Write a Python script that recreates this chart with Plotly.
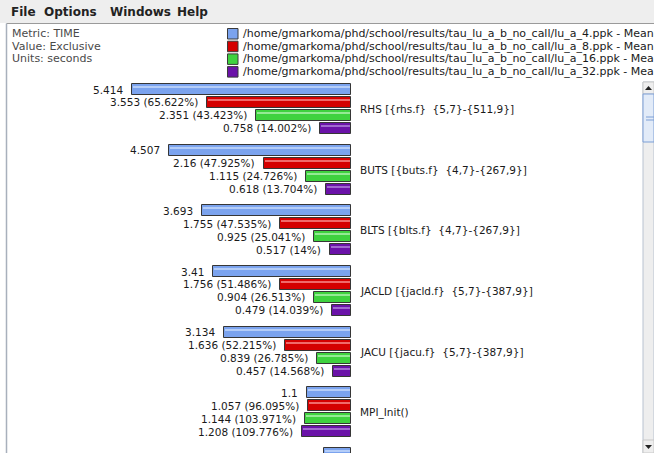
import plotly.graph_objects as go

# ---------------- data ----------------
functions = [
    "RHS [{rhs.f}\u00a0 {5,7}-{511,9}]",
    "BUTS [{buts.f}\u00a0 {4,7}-{267,9}]",
    "BLTS [{blts.f}\u00a0 {4,7}-{267,9}]",
    "JACLD [{jacld.f}\u00a0 {5,7}-{387,9}]",
    "JACU [{jacu.f}\u00a0 {5,7}-{387,9}]",
    "MPI_Init()",
    "",
]
series_names = [
    "/home/gmarkoma/phd/school/results/tau_lu_a_b_no_call/lu_a_4.ppk - Mean",
    "/home/gmarkoma/phd/school/results/tau_lu_a_b_no_call/lu_a_8.ppk - Mean",
    "/home/gmarkoma/phd/school/results/tau_lu_a_b_no_call/lu_a_16.ppk - Mean",
    "/home/gmarkoma/phd/school/results/tau_lu_a_b_no_call/lu_a_32.ppk - Mean",
]
lu_a_4 = [5.414, 4.507, 3.693, 3.41, 3.134, 1.1, 0.676]
lu_a_8 = [3.553, 2.16, 1.755, 1.756, 1.636, 1.057, None]
lu_a_16 = [2.351, 1.115, 0.925, 0.904, 0.839, 1.144, None]
lu_a_32 = [0.758, 0.618, 0.517, 0.479, 0.457, 1.208, None]
pct_8 = ["65.622", "47.925", "47.535", "51.486", "52.215", "96.095", None]
pct_16 = ["43.423", "24.726", "25.041", "26.513", "26.785", "103.971", None]
pct_32 = ["14.002", "13.704", "14", "14.039", "14.568", "109.776", None]
metric_lines = ["Metric: TIME", "Value: Exclusive", "Units: seconds"]

series_values = [lu_a_4, lu_a_8, lu_a_16, lu_a_32]
series_pcts = [None, pct_8, pct_16, pct_32]
fill_colors = ["#7ba3ee", "#d40000", "#3fd23f", "#6a12a8"]
stripe_colors = ["#b4cdf8", "#f06a6a", "#95ea95", "#a06ad0"]

# ---------------- layout geometry (pixels) ----------------
W, H = 654, 453
X0 = 351.0           # pixel where bars end (value 0)
SCALE = 40.45        # pixels per second
FIRST = 89.5         # centre of first bar
PERIOD = 60.67       # pixel distance between groups
ROW = 12.95          # pixel distance between bars within group
BAR_H = 11
LABEL_FONT = dict(family="DejaVu Sans", size=10.5, color="#1a1a1a")

xr = [-X0 / SCALE, (W - X0) / SCALE]

fig = go.Figure()
annotations = []

for s, (vals, name) in enumerate(zip(series_values, series_names)):
    ys, xs, bases = [], [], []
    for g, v in enumerate(vals):
        if v is None:
            continue
        y = FIRST + g * PERIOD + s * ROW
        ys.append(y)
        xs.append(v)
        bases.append(-v)
        if series_pcts[s] is None:
            txt = f"{v}"
        else:
            txt = f"{v} ({series_pcts[s][g]}%)"
        annotations.append(dict(
            x=-v, y=y, xref="x", yref="y", text=txt, showarrow=False,
            xanchor="right", yanchor="middle", xshift=-7, font=LABEL_FONT))
    fig.add_trace(go.Bar(
        y=ys, x=xs, base=bases, orientation="h", width=BAR_H, name=name,
        marker=dict(color=fill_colors[s], line=dict(color="#363636", width=1)),
        showlegend=False, hoverinfo="skip"))
    # highlight stripe for the 3D look
    fig.add_trace(go.Bar(
        y=[y - 2.2 for y in ys], x=[v - 0.05 for v in xs],
        base=[b + 0.025 for b in bases], orientation="h", width=1.6,
        marker=dict(color=stripe_colors[s], line=dict(width=0)),
        showlegend=False, hoverinfo="skip"))

for g, fname in enumerate(functions):
    if not fname:
        continue
    yc = FIRST + g * PERIOD + 1.5 * ROW
    annotations.append(dict(
        x=0, y=yc, xref="x", yref="y", text=fname, showarrow=False,
        xanchor="left", yanchor="middle", xshift=7, font=LABEL_FONT))

shapes = []
# menu bar background
shapes.append(dict(type="rect", xref="paper", yref="y", x0=0, x1=1, y0=0, y1=23,
                   fillcolor="#eeeeee", line=dict(width=0), layer="below"))
# panel borders
shapes.append(dict(type="line", xref="paper", yref="y", x0=6.5 / W, x1=1, y0=23.5, y1=23.5,
                   line=dict(color="#9a9a9a", width=1)))
shapes.append(dict(type="line", xref="paper", yref="y", x0=6.5 / W, x1=6.5 / W, y0=23.5, y1=H,
                   line=dict(color="#a8b0bc", width=1.5)))

menu_items = [("File", 9), ("Options", 42), ("Windows", 108), ("Help", 175)]
for label, px in menu_items:
    annotations.append(dict(x=px / W, y=12, xref="paper", yref="y", text=f"<b>{label}</b>",
                            showarrow=False, xanchor="left", yanchor="middle",
                            font=dict(family="DejaVu Sans", size=12, color="#222222")))

for i, line in enumerate(metric_lines):
    annotations.append(dict(x=10 / W, y=33.5 + i * 12.7, xref="paper", yref="y", text=line,
                            showarrow=False, xanchor="left", yanchor="middle",
                            font=dict(family="DejaVu Sans", size=11, color="#4a4a4a")))

for i, name in enumerate(series_names):
    yc = 33.5 + i * 12.7
    shapes.append(dict(type="rect", xref="paper", yref="y", x0=227.5 / W, x1=238 / W,
                       y0=yc - 5, y1=yc + 5.5, fillcolor=fill_colors[i],
                       line=dict(color="#3a3a3a", width=1)))
    annotations.append(dict(x=241 / W, y=yc, xref="paper", yref="y", text=name,
                            showarrow=False, xanchor="left", yanchor="middle",
                            font=dict(family="DejaVu Sans", size=11, color="#1a1a1a")))

# scrollbar
SB0 = 643
shapes.append(dict(type="rect", xref="paper", yref="y", x0=SB0 / W, x1=1, y0=82, y1=H,
                   fillcolor="#eeeeee", line=dict(color="#b8c2d0", width=1)))
shapes.append(dict(type="rect", xref="paper", yref="y", x0=SB0 / W, x1=1, y0=82, y1=94,
                   fillcolor="#eeeeee", line=dict(color="#c8c8c8", width=1)))
shapes.append(dict(type="rect", xref="paper", yref="y", x0=SB0 / W, x1=1, y0=94, y1=142,
                   fillcolor="#e2ebf8", line=dict(color="#7d9fd6", width=1)))
for yy in (117, 120):
    shapes.append(dict(type="line", xref="paper", yref="y", x0=(SB0 + 3) / W, x1=1, y0=yy, y1=yy,
                       line=dict(color="#7d9fd6", width=1)))
shapes.append(dict(type="rect", xref="paper", yref="y", x0=SB0 / W, x1=1, y0=440, y1=H,
                   fillcolor="#eeeeee", line=dict(color="#c8c8c8", width=1)))
ax = (SB0 + 5.5) / W
d = 3.5 / W
shapes.append(dict(type="path", xref="paper", yref="y",
                   path=f"M {ax - d} 90 L {ax + d} 90 L {ax} 86 Z",
                   fillcolor="#222222", line=dict(width=0)))
shapes.append(dict(type="path", xref="paper", yref="y",
                   path=f"M {ax - d} 445 L {ax + d} 445 L {ax} 449 Z",
                   fillcolor="#222222", line=dict(width=0)))

fig.update_layout(
    width=W, height=H,
    margin=dict(l=0, r=0, t=0, b=0),
    paper_bgcolor="white", plot_bgcolor="white",
    barmode="overlay", bargap=0,
    xaxis=dict(range=xr, visible=False, fixedrange=True),
    yaxis=dict(range=[H, 0], visible=False, fixedrange=True),
    annotations=annotations, shapes=shapes,
    showlegend=False,
)

fig.write_html(
    "out.html",
    config={"displayModeBar": False},
    post_script="document.body.style.margin='0';document.body.style.overflow='hidden';",
)
